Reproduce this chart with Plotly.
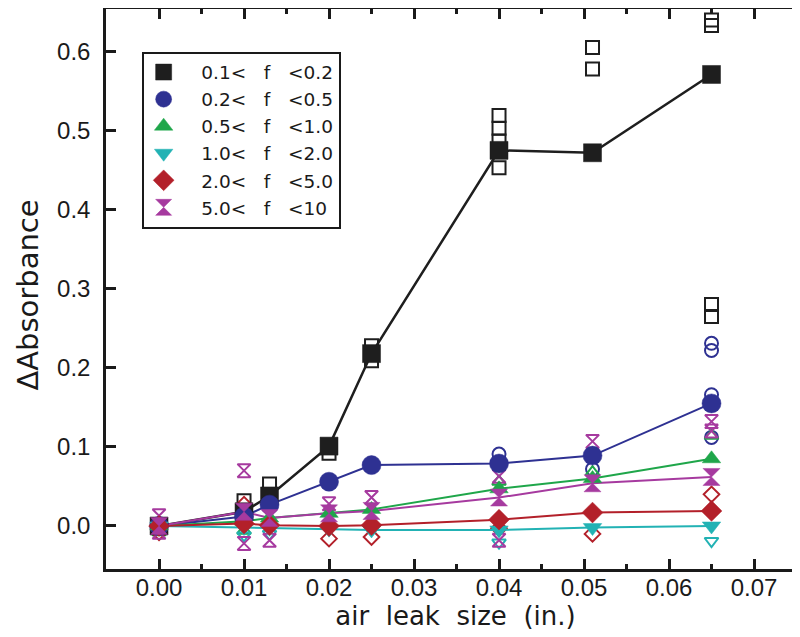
import plotly.graph_objects as go

# ---------------- data ----------------
x_sizes = [0.0, 0.010, 0.013, 0.020, 0.025, 0.040, 0.051, 0.065]

NB = "\u00a0"
series_names = [NB * 3 + "0.1<" + NB * 3 + "f" + NB * 3 + "<0.2",
                NB * 3 + "0.2<" + NB * 3 + "f" + NB * 3 + "<0.5",
                NB * 3 + "0.5<" + NB * 3 + "f" + NB * 3 + "<1.0",
                NB * 3 + "1.0<" + NB * 3 + "f" + NB * 3 + "<2.0",
                NB * 3 + "2.0<" + NB * 3 + "f" + NB * 3 + "<5.0",
                NB * 3 + "5.0<" + NB * 3 + "f" + NB * 3 + "<10"]

mean_black = [0.0, 0.018, 0.038, 0.101, 0.218, 0.475, 0.472, 0.571]
mean_blue = [0.0, 0.012, 0.027, 0.056, 0.077, 0.079, 0.089, 0.155]
mean_green = [0.0, 0.006, 0.010, 0.016, 0.021, 0.047, 0.060, 0.085]
mean_cyan = [0.0, -0.002, -0.003, -0.004, -0.005, -0.005, -0.002, 0.000]
mean_red = [0.0, 0.003, 0.001, 0.000, 0.001, 0.008, 0.017, 0.019]
mean_magenta = [0.0, 0.018, 0.010, 0.016, 0.019, 0.036, 0.054, 0.062]

ind_black_x = [0.010, 0.013, 0.013, 0.020, 0.025, 0.025, 0.040, 0.040, 0.040, 0.040,
               0.051, 0.051, 0.065, 0.065, 0.065, 0.065]
ind_black_y = [0.032, 0.053, 0.030, 0.092, 0.228, 0.209, 0.519, 0.503, 0.487, 0.453,
               0.605, 0.578, 0.640, 0.633, 0.280, 0.265]

ind_blue_x = [0.040, 0.051, 0.065, 0.065, 0.065, 0.065]
ind_blue_y = [0.091, 0.072, 0.231, 0.222, 0.166, 0.112]

ind_green_x = [0.0, 0.010, 0.013, 0.040, 0.051, 0.065]
ind_green_y = [-0.008, -0.006, 0.005, 0.056, 0.068, 0.114]

ind_cyan_x = [0.010, 0.013, 0.040, 0.065]
ind_cyan_y = [-0.012, -0.010, -0.021, -0.019]

ind_red_x = [0.0, 0.010, 0.013, 0.020, 0.025, 0.040, 0.051, 0.065]
ind_red_y = [-0.008, 0.027, 0.002, -0.016, -0.014, -0.003, -0.010, 0.040]

ind_magenta_x = [0.0, 0.0, 0.010, 0.010, 0.013, 0.013, 0.020, 0.025, 0.040, 0.040,
                 0.051, 0.065, 0.065]
ind_magenta_y = [0.013, -0.008, 0.070, -0.022, -0.018, 0.012, 0.028, 0.036, 0.063, -0.018,
                 0.107, 0.132, 0.120]

x_tick_vals = [0.00, 0.01, 0.02, 0.03, 0.04, 0.05, 0.06, 0.07]
x_tick_text = ["0.00", "0.01", "0.02", "0.03", "0.04", "0.05", "0.06", "0.07"]
x_minor_vals = [0.005, 0.015, 0.025, 0.035, 0.045, 0.055, 0.065]
y_tick_vals = [0.0, 0.1, 0.2, 0.3, 0.4, 0.5, 0.6]
y_tick_text = ["0.0", "0.1", "0.2", "0.3", "0.4", "0.5", "0.6"]

x_title = "air" + NB * 2 + "leak" + NB * 2 + "size" + NB * 2 + "(in.)"
y_title = "\u0394Absorbance"

# ---------------- style ----------------
colors = ["#1e1e1e", "#2e3192", "#1fa64a", "#22b2b4", "#b3202a", "#a63a9f"]
filled_symbols = ["square", "circle", "triangle-up", "triangle-down", "diamond", "hourglass"]
open_symbols = ["square-open", "circle-open", "triangle-up-open", "triangle-down-open",
                "diamond-open", "hourglass-open"]
means = [mean_black, mean_blue, mean_green, mean_cyan, mean_red, mean_magenta]
ind_x = [ind_black_x, ind_blue_x, ind_green_x, ind_cyan_x, ind_red_x, ind_magenta_x]
ind_y = [ind_black_y, ind_blue_y, ind_green_y, ind_cyan_y, ind_red_y, ind_magenta_y]
filled_sizes = [18, 19, 16, 16, 16, 17]
open_sizes = [13, 13, 12, 12, 12, 13]
line_widths = [2.5, 2, 2, 2, 2, 2]

fig = go.Figure()

for i in range(6):
    fig.add_trace(go.Scatter(
        x=ind_x[i], y=ind_y[i], mode="markers", showlegend=False,
        marker=dict(symbol=open_symbols[i], size=open_sizes[i], color=colors[i],
                    line=dict(width=2, color=colors[i])),
        hoverinfo="skip"))

for i in range(6):
    fig.add_trace(go.Scatter(
        x=x_sizes, y=means[i], mode="lines", showlegend=False,
        line=dict(color=colors[i], width=line_widths[i]), hoverinfo="skip"))

for i in range(6):
    fig.add_trace(go.Scatter(
        x=x_sizes, y=means[i], mode="markers", name=series_names[i],
        marker=dict(symbol=filled_symbols[i], size=filled_sizes[i], color=colors[i],
                    line=dict(width=0.5, color=colors[i]))))

tick_family = "Liberation Sans, Arial, sans-serif"
text_family = "DejaVu Sans, Liberation Sans, sans-serif"
ink = "#1a1a1a"

fig.update_layout(
    width=800, height=637,
    margin=dict(l=98, r=3, t=1, b=76, autoexpand=False),
    paper_bgcolor="white", plot_bgcolor="white",
    font=dict(family=tick_family, color=ink),
    showlegend=True,
    legend=dict(
        x=0.051, y=0.924, xanchor="left", yanchor="top",
        bgcolor="white", bordercolor=ink, borderwidth=2,
        font=dict(size=18.5, family=text_family, color=ink),
        itemwidth=30, tracegroupgap=0,
    ),
    xaxis=dict(
        range=[-0.00624, 0.0760],
        tickmode="array", tickvals=x_tick_vals, ticktext=x_tick_text,
        ticks="inside", ticklen=10, tickwidth=2.5, tickcolor=ink,
        minor=dict(tickmode="array", tickvals=x_minor_vals, ticks="inside", ticklen=5,
                   tickwidth=2.5, tickcolor=ink, showgrid=False),
        showline=True, linewidth=2.5, linecolor=ink, mirror="ticks",
        showgrid=False, zeroline=False,
        tickfont=dict(size=24), ticklabelstandoff=-5,
        title=dict(text=x_title, font=dict(size=26, family=text_family), standoff=5),
    ),
    yaxis=dict(
        range=[-0.0544, 0.6538],
        tickmode="array", tickvals=y_tick_vals, ticktext=y_tick_text,
        ticks="inside", ticklen=10, tickwidth=2.5, tickcolor=ink,
        showline=True, linewidth=2.5, linecolor=ink, mirror="ticks",
        showgrid=False, zeroline=False,
        tickfont=dict(size=24), ticklabelstandoff=8,
    ),
    annotations=[dict(
        text=y_title, textangle=-90, xref="paper", yref="paper",
        x=-0.1116, y=0.49, xanchor="center", yanchor="middle", showarrow=False,
        font=dict(size=29, family=text_family, color=ink))],
)

fig.write_html("out.html")
